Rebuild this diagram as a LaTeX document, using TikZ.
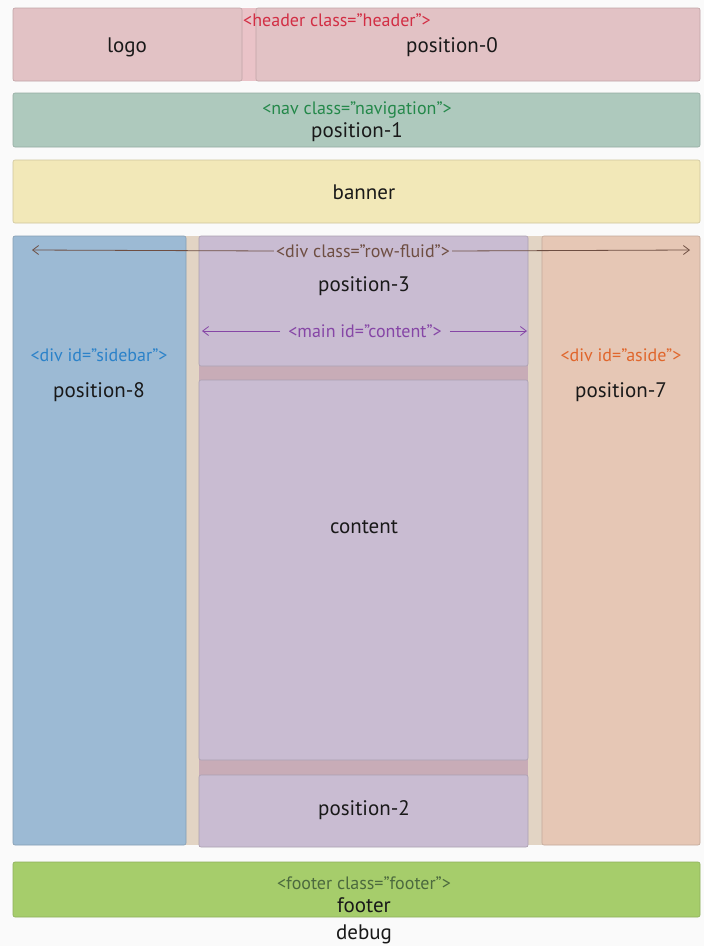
\documentclass[tikz,border=0pt]{standalone}
\usepackage{fontspec}
\setmainfont{PT Sans}
\usetikzlibrary{arrows.meta}
\definecolor{bgc}{HTML}{FAFAFA}
\definecolor{hdr}{HTML}{E2C2C5}
\definecolor{hdrgap}{HTML}{EAC3C8}
\definecolor{navc}{HTML}{AEC9BD}
\definecolor{banc}{HTML}{F2E8B8}
\definecolor{sidec}{HTML}{9CBAD4}
\definecolor{asidec}{HTML}{E6C7B5}
\definecolor{midc}{HTML}{E2D4C4}
\definecolor{purc}{HTML}{C9BCD2}
\definecolor{stripc}{HTML}{C8ACB7}
\definecolor{footc}{HTML}{A6CD6B}
\definecolor{redt}{HTML}{D22E44}
\definecolor{greent}{HTML}{24884A}
\definecolor{brownt}{HTML}{6E4E42}
\definecolor{purt}{HTML}{8646A6}
\definecolor{bluet}{HTML}{2B82C9}
\definecolor{orat}{HTML}{E0662C}
\definecolor{foott}{HTML}{4C6A3E}
\tikzset{
  box/.style={draw=#1!85!black, fill=#1, line width=0.6pt, rounded corners=2pt, anchor=north west, inner sep=0pt, outer sep=0pt},
  flat/.style={fill=#1, draw=none, anchor=north west, inner sep=0pt, outer sep=0pt},
  lbl/.style={font=\fontsize{21}{23}\selectfont, text=black!90, inner sep=1pt},
  tag/.style={font=\fontsize{18}{20}\selectfont, inner sep=2pt},
  arr/.style={-{Straight Barb[length=6pt,width=9pt]}, line width=0.8pt}
}
\begin{document}
\begin{tikzpicture}[x=1pt,y=-1pt]
\useasboundingbox (0,0) rectangle (704,946);
\fill[bgc] (0,0) rectangle (704,946);
% header
\node[flat=hdrgap, minimum width=687pt, minimum height=73pt] (header) at (13,8) {};
\node[box=hdr, minimum width=229pt, minimum height=73pt] (logo) at (13,8) {};
\node[box=hdr, minimum width=444pt, minimum height=73pt] (pos0) at (256,8) {};
\node[lbl] (logot) at (127,47) {logo};
\node[lbl] (pos0t) at (452,47) {position-0};
\node[tag, text=redt] (headert) at (337,20) {<header class="header">};
% nav
\node[box=navc, minimum width=687pt, minimum height=54pt] (nav) at (13,93) {};
\node[tag, text=greent] (navt) at (357,110) {<nav class="navigation">};
\node[lbl] (pos1t) at (357,132) {position-1};
% banner
\node[box=banc, minimum width=687pt, minimum height=63pt] (banner) at (13,160) {};
\node[lbl] (bannert) at (364,192) {banner};
% row fluid
\node[flat=midc, minimum width=687pt, minimum height=609pt] (row) at (13,236) {};
\node[box=sidec, minimum width=173pt, minimum height=609pt] (sidebar) at (13,236) {};
\node[box=asidec, minimum width=158pt, minimum height=609pt] (aside) at (542,236) {};
\node[flat=stripc, minimum width=329pt, minimum height=610pt] (main) at (199,237) {};
\node[box=purc, minimum width=329pt, minimum height=130pt] (pos3) at (199,236) {};
\node[box=purc, minimum width=329pt, minimum height=380pt] (content) at (199,380) {};
\node[box=purc, minimum width=329pt, minimum height=72pt] (pos2) at (199,775) {};
\node[lbl] (pos3t) at (364,286) {position-3};
\node[lbl] (contentt) at (364,527) {content};
\node[lbl] (pos2t) at (364,810) {position-2};
\node[tag, text=bluet] (sidebart) at (99,355) {<div id="sidebar">};
\node[lbl] (pos8t) at (99,392) {position-8};
\node[tag, text=orat] (asidet) at (621,355) {<div id="aside">};
\node[lbl] (pos7t) at (621,392) {position-7};
% arrows
\node[tag, text=brownt] (rowt) at (363,251) {<div class="row-fluid">};
\coordinate (rl) at (32,250);
\coordinate (rr) at (690,250);
\draw[arr, brownt] (rowt.west) -- (rl);
\draw[arr, brownt] (rowt.east) -- (rr);
\node[tag, text=purt] (maint) at (365,331) {<main id="content">};
\coordinate (ml) at (202,331);
\coordinate (mr) at (527,331);
\draw[arr, purt] (maint.west) ++(-6,0) -- (ml);
\draw[arr, purt] (maint.east) ++(6,0) -- (mr);
% footer
\node[box=footc, minimum width=687pt, minimum height=55pt] (footer) at (13,862) {};
\node[tag, text=foott, inner sep=0pt] (footert) at (364,883) {<footer class="footer">};
\node[lbl, inner sep=0pt] (foott) at (364,905) {footer};
\node[lbl] (debugt) at (364,934) {debug};
\end{tikzpicture}
\end{document}
